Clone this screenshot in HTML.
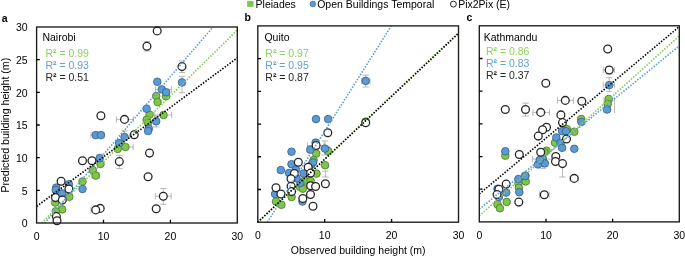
<!DOCTYPE html>
<html><head><meta charset="utf-8"><style>
html,body{margin:0;padding:0;background:#fff;}
body{width:685px;height:257px;overflow:hidden;}
svg{display:block;will-change:transform;font-family:"Liberation Sans",sans-serif;font-size:10.5px;}
</style></head><body>
<svg width="685" height="257" viewBox="0 0 685 257">
<rect width="685" height="257" fill="#fff"/>
<g stroke="#9c9c9c" stroke-width="0.7" fill="none"><path d="M154.7 115H171.7M154.7 111.80v6.4M171.7 111.80v6.4"/><path d="M118 147H133.2M118 143.80v6.4M133.2 143.80v6.4"/><path d="M92 175.6H99.4M92 172.40v6.4M99.4 172.40v6.4"/><path d="M182 76.4V92.7M178.80 76.4h6.4M178.80 92.7h6.4"/><path d="M155.5 89.4H171.6M155.5 86.20v6.4M171.6 86.20v6.4"/><path d="M156.2 116V127M153.00 116h6.4M153.00 127h6.4"/><path d="M90.9 135.1H104.1M90.9 131.90v6.4M104.1 131.90v6.4"/><path d="M124.5 131V140M121.30 131h6.4M121.30 140h6.4"/><path d="M99.7 154.3V162M96.50 154.3h6.4M96.50 162h6.4"/><path d="M146.9 41.5V51M143.70 41.5h6.4M143.70 51h6.4"/><path d="M182 61V72.5M178.80 61h6.4M178.80 72.5h6.4"/><path d="M116.4 119.4H133.3M116.4 116.20v6.4M133.3 116.20v6.4"/><path d="M119.3 155.3V168.6M116.10 155.3h6.4M116.10 168.6h6.4"/><path d="M149.5 149.5V156.5M146.30 149.5h6.4M146.30 156.5h6.4"/><path d="M155.4 196.2H171.2M155.4 193.00v6.4M171.2 193.00v6.4"/><path d="M163.3 188.5V204.3M160.10 188.5h6.4M160.10 204.3h6.4"/><path d="M91 209.9H100M91 206.70v6.4M100 206.70v6.4"/></g><g fill="#7fc748" stroke="#4f7a31" stroke-width="0.85"><circle cx="156.2" cy="96.1" r="3.8"/><circle cx="166.0" cy="96.2" r="3.8"/><circle cx="157.6" cy="102.1" r="3.8"/><circle cx="149.5" cy="114.6" r="3.8"/><circle cx="163.5" cy="115" r="3.8"/><circle cx="146.6" cy="119.8" r="3.8"/><circle cx="148" cy="122.8" r="3.8"/><circle cx="125.4" cy="147" r="3.8"/><circle cx="117.7" cy="148.9" r="3.8"/><circle cx="100.5" cy="164" r="3.8"/><circle cx="92.8" cy="170.1" r="3.8"/><circle cx="95.7" cy="175.6" r="3.8"/><circle cx="82.5" cy="181.5" r="3.8"/><circle cx="69.3" cy="196.8" r="3.8"/><circle cx="55.2" cy="202.6" r="3.8"/><circle cx="62.2" cy="209.4" r="3.8"/><circle cx="55.8" cy="211.3" r="3.8"/></g><g fill="#5b9bd5" stroke="#38618c" stroke-width="0.85"><circle cx="182" cy="82.4" r="3.8"/><circle cx="157.3" cy="81.8" r="3.8"/><circle cx="161.8" cy="89.4" r="3.8"/><circle cx="166.2" cy="92.3" r="3.8"/><circle cx="146.6" cy="108.7" r="3.8"/><circle cx="156.2" cy="121.3" r="3.8"/><circle cx="148.8" cy="128.7" r="3.8"/><circle cx="148.1" cy="131" r="3.8"/><circle cx="95.7" cy="135.1" r="3.8"/><circle cx="100.9" cy="135.1" r="3.8"/><circle cx="124.5" cy="137" r="3.8"/><circle cx="119.1" cy="143.1" r="3.8"/><circle cx="99.7" cy="158.2" r="3.8"/><circle cx="82.5" cy="189" r="3.8"/><circle cx="68.9" cy="184.2" r="3.8"/><circle cx="56.2" cy="187.6" r="3.8"/><circle cx="55.7" cy="190" r="3.8"/><circle cx="62" cy="193.4" r="3.8"/></g><g fill="#fff" stroke="#262626" stroke-width="1.3"><circle cx="157.2" cy="30.9" r="3.9"/><circle cx="146.9" cy="46.2" r="3.9"/><circle cx="182" cy="66.6" r="3.9"/><circle cx="100.9" cy="115.8" r="3.9"/><circle cx="124.5" cy="119.4" r="3.9"/><circle cx="134.2" cy="134.8" r="3.9"/><circle cx="82.5" cy="160.7" r="3.9"/><circle cx="92" cy="160.7" r="3.9"/><circle cx="119.3" cy="161.6" r="3.9"/><circle cx="149.5" cy="153.1" r="3.9"/><circle cx="148.1" cy="176.7" r="3.9"/><circle cx="61.1" cy="181.3" r="3.9"/><circle cx="68.9" cy="189" r="3.9"/><circle cx="163.3" cy="196.2" r="3.9"/><circle cx="156.2" cy="208.7" r="3.9"/><circle cx="55.5" cy="197.6" r="3.9"/><circle cx="62.3" cy="200.1" r="3.9"/><circle cx="56.4" cy="216.6" r="3.9"/><circle cx="57" cy="220.7" r="3.9"/><circle cx="100.2" cy="208.4" r="3.9"/><circle cx="95.7" cy="209.9" r="3.9"/></g><g stroke-width="1.6" stroke-dasharray="1.5 1.5" fill="none"><line x1="41.5" y1="223.0" x2="237.3" y2="30.0" stroke="#86c84e"/><line x1="44.7" y1="223.0" x2="213.0" y2="27.0" stroke="#5b9bd5"/><line x1="36.6" y1="206.4" x2="237.3" y2="57.9" stroke="#000"/></g><rect x="36.6" y="27.0" width="200.70" height="196.00" fill="none" stroke="#1a1a1a" stroke-width="1.35"/><path d="M103.50 223.0v-3.2M170.40 223.0v-3.2M36.6 190.33h3.2M36.6 157.67h3.2M36.6 125.00h3.2M36.6 92.33h3.2M36.6 59.67h3.2" stroke="#000" stroke-width="1.3"/><text x="42.40" y="40.9" fill="#000">Nairobi</text><text x="45.40" y="56.60" fill="#8fd05c">R<tspan font-weight="bold">²</tspan> = 0.99</text><text x="45.40" y="69.00" fill="#62a0d9">R<tspan font-weight="bold">²</tspan> = 0.93</text><text x="45.40" y="81.10" fill="#262626">R<tspan font-weight="bold">²</tspan> = 0.51</text><text x="36.60" y="239.60" text-anchor="middle" fill="#000">0</text><text x="103.50" y="239.60" text-anchor="middle" fill="#000">10</text><text x="170.40" y="239.60" text-anchor="middle" fill="#000">20</text><text x="237.30" y="239.60" text-anchor="middle" fill="#000">30</text><g stroke="#9c9c9c" stroke-width="0.7" fill="none"><path d="M361.6 80.9H370M361.6 77.70v6.4M370 77.70v6.4"/><path d="M365.7 75.1V87M362.50 75.1h6.4M362.50 87h6.4"/><path d="M318 148.6H329M318 145.40v6.4M329 145.40v6.4"/><path d="M324.9 141V155M321.70 141h6.4M321.70 155h6.4"/><path d="M307.5 145.5H324M307.5 142.30v6.4M324 142.30v6.4"/><path d="M316.1 140.5V152M312.90 140.5h6.4M312.90 152h6.4"/><path d="M325.4 171V177M322.20 171h6.4M322.20 177h6.4"/></g><g fill="#7fc748" stroke="#4f7a31" stroke-width="0.85"><circle cx="316.2" cy="153.6" r="3.8"/><circle cx="328" cy="150.9" r="3.8"/><circle cx="313.6" cy="160" r="3.8"/><circle cx="325.1" cy="165.2" r="3.8"/><circle cx="316.5" cy="173.6" r="3.8"/><circle cx="307.2" cy="179" r="3.8"/><circle cx="304.3" cy="180.9" r="3.8"/><circle cx="310.6" cy="180.9" r="3.8"/><circle cx="299.9" cy="186.8" r="3.8"/><circle cx="302.8" cy="188.7" r="3.8"/><circle cx="291.6" cy="197" r="3.8"/><circle cx="276" cy="201.5" r="3.8"/><circle cx="281.4" cy="204.8" r="3.8"/><circle cx="365.7" cy="121.5" r="3.8"/></g><g fill="#5b9bd5" stroke="#38618c" stroke-width="0.85"><circle cx="365.7" cy="80.9" r="3.8"/><circle cx="316" cy="119.1" r="3.8"/><circle cx="328.1" cy="119.1" r="3.8"/><circle cx="315.6" cy="142.6" r="3.8"/><circle cx="310.2" cy="149.7" r="3.8"/><circle cx="324.9" cy="148.6" r="3.8"/><circle cx="291.5" cy="151.7" r="3.8"/><circle cx="291.5" cy="164.2" r="3.8"/><circle cx="280.8" cy="170.1" r="3.8"/><circle cx="289" cy="173" r="3.8"/><circle cx="295.9" cy="169.6" r="3.8"/><circle cx="303.6" cy="173.5" r="3.8"/><circle cx="311.4" cy="164.7" r="3.8"/><circle cx="313" cy="162.4" r="3.8"/><circle cx="300.4" cy="182.9" r="3.8"/><circle cx="296.5" cy="178.3" r="3.8"/><circle cx="275.1" cy="194" r="3.8"/><circle cx="302.5" cy="201.5" r="3.8"/></g><g fill="#fff" stroke="#262626" stroke-width="1.3"><circle cx="327.8" cy="132.8" r="3.9"/><circle cx="316.1" cy="145.5" r="3.9"/><circle cx="298.3" cy="162.3" r="3.9"/><circle cx="308.2" cy="167.3" r="3.9"/><circle cx="294.4" cy="173.5" r="3.9"/><circle cx="310.6" cy="173.1" r="3.9"/><circle cx="291" cy="178.8" r="3.9"/><circle cx="325.4" cy="183.8" r="3.9"/><circle cx="276" cy="187.7" r="3.9"/><circle cx="291.1" cy="186.3" r="3.9"/><circle cx="291.6" cy="191.6" r="3.9"/><circle cx="280.9" cy="194" r="3.9"/><circle cx="310.6" cy="185.8" r="3.9"/><circle cx="315.6" cy="186.5" r="3.9"/><circle cx="310.5" cy="194.5" r="3.9"/><circle cx="302.8" cy="198.5" r="3.9"/><circle cx="313" cy="206.3" r="3.9"/><circle cx="365.7" cy="122.8" r="3.9"/></g><g stroke-width="1.6" stroke-dasharray="1.5 1.5" fill="none"><line x1="257.8" y1="222.4" x2="458.5" y2="32.5" stroke="#86c84e"/><line x1="267.3" y1="222.2" x2="391.2" y2="26.0" stroke="#5b9bd5"/><line x1="257.8" y1="222.2" x2="458.5" y2="33.4" stroke="#000"/></g><rect x="257.8" y="25.9" width="200.70" height="196.30" fill="none" stroke="#1a1a1a" stroke-width="1.35"/><path d="M324.70 222.2v-3.2M391.60 222.2v-3.2M257.8 189.48h3.2M257.8 156.77h3.2M257.8 124.05h3.2M257.8 91.33h3.2M257.8 58.62h3.2" stroke="#000" stroke-width="1.3"/><text x="264.40" y="40.9" fill="#000">Quito</text><text x="265.30" y="56.90" fill="#8fd05c">R<tspan font-weight="bold">²</tspan> = 0.97</text><text x="265.30" y="69.30" fill="#62a0d9">R<tspan font-weight="bold">²</tspan> = 0.95</text><text x="265.30" y="81.40" fill="#262626">R<tspan font-weight="bold">²</tspan> = 0.87</text><text x="257.80" y="238.80" text-anchor="middle" fill="#000">0</text><text x="324.70" y="238.80" text-anchor="middle" fill="#000">10</text><text x="391.60" y="238.80" text-anchor="middle" fill="#000">20</text><text x="458.50" y="238.80" text-anchor="middle" fill="#000">30</text><g stroke="#9c9c9c" stroke-width="0.7" fill="none"><path d="M603.3 85.1H614.4M603.3 81.90v6.4M614.4 81.90v6.4"/><path d="M609.2 77.7V91.7M606.00 77.7h6.4M606.00 91.7h6.4"/><path d="M532.6 159H553M532.6 155.80v6.4M553 155.80v6.4"/><path d="M542.9 152V168.4M539.70 152h6.4M539.70 168.4h6.4"/><path d="M603.3 70H614.4M603.3 66.80v6.4M614.4 66.80v6.4"/><path d="M609.2 66.6V74M606.00 66.6h6.4M606.00 74h6.4"/><path d="M525.5 103.1V116.1M522.30 103.1h6.4M522.30 116.1h6.4"/><path d="M532.9 112.4H549.5M532.9 109.20v6.4M549.5 109.20v6.4"/><path d="M557.5 100.4H573.4M557.5 97.20v6.4M573.4 97.20v6.4"/><path d="M562.5 163.6V177M559.30 163.6h6.4M559.30 177h6.4"/><path d="M570 178.4H578.4M570 175.20v6.4M578.4 175.20v6.4"/><path d="M539.5 194.7H549.2M539.5 191.50v6.4M549.2 191.50v6.4"/><path d="M604 97V113"/><path d="M614.4 97V113"/></g><g fill="#7fc748" stroke="#4f7a31" stroke-width="0.85"><circle cx="608.7" cy="99.0" r="3.8"/><circle cx="607.8" cy="103.8" r="3.8"/><circle cx="581.2" cy="119.1" r="3.8"/><circle cx="567" cy="129.2" r="3.8"/><circle cx="574.3" cy="131.7" r="3.8"/><circle cx="555" cy="142.7" r="3.8"/><circle cx="546.5" cy="150.7" r="3.8"/><circle cx="505.3" cy="155.7" r="3.8"/><circle cx="518.4" cy="183.3" r="3.8"/><circle cx="525.7" cy="181.4" r="3.8"/><circle cx="518.9" cy="187.8" r="3.8"/><circle cx="506.7" cy="201.9" r="3.8"/><circle cx="497.5" cy="204.3" r="3.8"/><circle cx="499.9" cy="208.2" r="3.8"/><circle cx="544.4" cy="152.3" r="3.8"/></g><g fill="#5b9bd5" stroke="#38618c" stroke-width="0.85"><circle cx="609.2" cy="85.1" r="3.8"/><circle cx="607.1" cy="109.5" r="3.8"/><circle cx="581.4" cy="122" r="3.8"/><circle cx="562.1" cy="131.2" r="3.8"/><circle cx="566" cy="131.2" r="3.8"/><circle cx="556.3" cy="137.5" r="3.8"/><circle cx="560.5" cy="143" r="3.8"/><circle cx="562.1" cy="147.8" r="3.8"/><circle cx="574.3" cy="148.8" r="3.8"/><circle cx="505.3" cy="151.3" r="3.8"/><circle cx="542.9" cy="159" r="3.8"/><circle cx="538" cy="164.4" r="3.8"/><circle cx="544.8" cy="163.4" r="3.8"/><circle cx="539.7" cy="160" r="3.8"/><circle cx="525.4" cy="175.6" r="3.8"/><circle cx="525.2" cy="176.1" r="3.8"/><circle cx="518.4" cy="179" r="3.8"/><circle cx="497.5" cy="188.8" r="3.8"/><circle cx="506.2" cy="192.6" r="3.8"/><circle cx="498.9" cy="197" r="3.8"/><circle cx="519.3" cy="192.2" r="3.8"/></g><g fill="#fff" stroke="#262626" stroke-width="1.3"><circle cx="607.7" cy="49" r="3.9"/><circle cx="545.8" cy="83.3" r="3.9"/><circle cx="609.2" cy="70" r="3.9"/><circle cx="505.3" cy="109.5" r="3.9"/><circle cx="525.5" cy="109.5" r="3.9"/><circle cx="540.7" cy="112.4" r="3.9"/><circle cx="565.3" cy="100.4" r="3.9"/><circle cx="581.8" cy="101.2" r="3.9"/><circle cx="560.9" cy="114.9" r="3.9"/><circle cx="562.5" cy="122.6" r="3.9"/><circle cx="546.5" cy="127.3" r="3.9"/><circle cx="542.6" cy="129.7" r="3.9"/><circle cx="538.3" cy="136.1" r="3.9"/><circle cx="566.5" cy="139" r="3.9"/><circle cx="540.7" cy="152.2" r="3.9"/><circle cx="519.3" cy="154.5" r="3.9"/><circle cx="555.8" cy="156.5" r="3.9"/><circle cx="555.5" cy="161.5" r="3.9"/><circle cx="562.5" cy="163.6" r="3.9"/><circle cx="574.2" cy="178.4" r="3.9"/><circle cx="506.2" cy="184.1" r="3.9"/><circle cx="498.9" cy="189.2" r="3.9"/><circle cx="497" cy="194.6" r="3.9"/><circle cx="544.3" cy="194.7" r="3.9"/><circle cx="518.8" cy="202.1" r="3.9"/></g><g stroke-width="1.6" stroke-dasharray="1.5 1.5" fill="none"><line x1="479.3" y1="216.0" x2="679.3" y2="36.0" stroke="#86c84e"/><line x1="479.3" y1="209.2" x2="679.3" y2="45.9" stroke="#5b9bd5"/><line x1="479.3" y1="194.0" x2="679.3" y2="26.6" stroke="#000"/></g><rect x="479.3" y="25.8" width="200.00" height="196.10" fill="none" stroke="#1a1a1a" stroke-width="1.35"/><path d="M545.97 221.9v-3.2M612.63 221.9v-3.2M479.3 189.22h3.2M479.3 156.53h3.2M479.3 123.85h3.2M479.3 91.17h3.2M479.3 58.48h3.2" stroke="#000" stroke-width="1.3"/><text x="483.70" y="40.9" fill="#000">Kathmandu</text><text x="485.90" y="54.90" fill="#8fd05c">R<tspan font-weight="bold">²</tspan> = 0.86</text><text x="485.90" y="67.30" fill="#62a0d9">R<tspan font-weight="bold">²</tspan> = 0.83</text><text x="485.90" y="79.40" fill="#262626">R<tspan font-weight="bold">²</tspan> = 0.37</text><text x="479.30" y="239.00" text-anchor="middle" fill="#000">0</text><text x="545.97" y="239.00" text-anchor="middle" fill="#000">10</text><text x="612.63" y="239.00" text-anchor="middle" fill="#000">20</text><text x="679.30" y="239.00" text-anchor="middle" fill="#000">30</text><text x="27.6" y="227.40" text-anchor="end" fill="#000">0</text><text x="27.6" y="194.73" text-anchor="end" fill="#000">5</text><text x="27.6" y="162.07" text-anchor="end" fill="#000">10</text><text x="27.6" y="129.40" text-anchor="end" fill="#000">15</text><text x="27.6" y="96.73" text-anchor="end" fill="#000">20</text><text x="27.6" y="64.07" text-anchor="end" fill="#000">25</text><text x="27.6" y="31.40" text-anchor="end" fill="#000">30</text><text x="358.2" y="253.7" text-anchor="middle" fill="#000">Observed building height (m)</text><text transform="translate(9.3 125.2) rotate(-90)" font-size="10.6" text-anchor="middle" fill="#000">Predicted building height (m)</text><g font-weight="bold" fill="#000"><text x="1.8" y="21.5">a</text><text x="244.6" y="21.2">b</text><text x="466.6" y="20.5">c</text></g><rect x="247.1" y="0.9" width="6.4" height="6" fill="#7fc748"/><text x="255.6" y="7.9" fill="#000">Pleiades</text><circle cx="312.85" cy="4.0" r="2.9" fill="#5b9bd5" stroke="#38618c" stroke-width="0.5"/><text x="317.2" y="7.9" fill="#000">Open Buildings Temporal</text><circle cx="453.4" cy="4.1" r="2.95" fill="#fff" stroke="#262626" stroke-width="1.0"/><text x="458.2" y="7.9" fill="#000">Pix2Pix (E)</text>
</svg>
</body></html>
